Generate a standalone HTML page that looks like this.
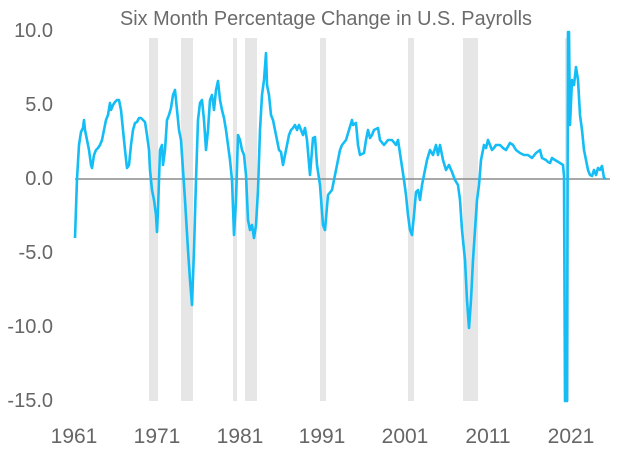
<!DOCTYPE html>
<html><head><meta charset="utf-8"><style>
html,body{margin:0;padding:0;background:#fff;}
svg{display:block;font-family:"Liberation Sans",sans-serif;}
</style></head><body>
<svg width="624" height="455" viewBox="0 0 624 455">
<g fill="#e6e6e6">
<rect x="149" y="38" width="9" height="363"/>
<rect x="181" y="38" width="12" height="363"/>
<rect x="233" y="38" width="4" height="363"/>
<rect x="245" y="38" width="12" height="363"/>
<rect x="320" y="38" width="6" height="363"/>
<rect x="408" y="38" width="6" height="363"/>
<rect x="463" y="38" width="15" height="363"/>
<rect x="565" y="38" width="4" height="363"/>
</g>
<line x1="75" y1="179" x2="610" y2="179" stroke="#8c8c8c" stroke-width="1.5"/>
<text x="326" y="25" font-size="20" fill="#6b6b6b" text-anchor="middle" textLength="412" lengthAdjust="spacingAndGlyphs">Six Month Percentage Change in U.S. Payrolls</text>
<g font-size="20" fill="#666" text-anchor="end">
<text x="53" y="37">10.0</text>
<text x="53" y="111">5.0</text>
<text x="53" y="185">0.0</text>
<text x="53" y="259">-5.0</text>
<text x="53" y="333">-10.0</text>
<text x="53" y="407">-15.0</text>
</g>
<g font-size="21" fill="#666" text-anchor="middle">
<text x="74" y="443">1961</text>
<text x="157" y="443">1971</text>
<text x="240" y="443">1981</text>
<text x="322" y="443">1991</text>
<text x="405" y="443">2001</text>
<text x="488" y="443">2011</text>
<text x="571" y="443">2021</text>
</g>
<polyline fill="none" stroke="#14bdf5" stroke-width="2.6" stroke-linejoin="round" points="
75,238 77,179 79,145 81,132 83,128 84,120 85,130 87,140 89,150 91,165 92,168 94,155 96,150 98,148 100,145 102,140 104,130 106,120 108,115 110,103 111,110 113,105 115,102 117,100 119,100 121,110 123,130 125,150 127,168 129,165 131,145 133,130 135,123 137,122 139,118 141,118 143,120 145,122 147,135 149,150 150,170 152,190 154,200 156,215 157,232 158,210 160,150 162,145 163,165 165,150 167,120 169,115 171,108 173,95 175,90 177,110 179,130 181,140 183,170 185,200 188,250 190,280 192,305 194,250 196,180 198,120 200,103 202,100 204,120 206,150 208,130 210,100 212,95 214,110 216,90 218,81 220,100 222,110 224,118 226,130 228,145 230,160 232,180 234,235 236,200 238,135 240,140 242,150 244,155 246,175 248,220 250,230 252,225 254,238 256,225 258,190 260,130 262,95 264,80 266,53 267,85 269,95 271,115 273,120 275,130 277,140 279,150 281,152 283,165 285,155 287,145 289,135 291,130 293,128 295,125 297,130 299,125 301,130 303,135 305,128 307,140 310,175 313,138 315,137 317,165 320,185 323,225 325,230 328,195 332,190 336,170 340,150 342,145 346,140 349,130 352,120 353,125 356,123 358,145 360,155 364,153 366,140 368,130 370,138 372,135 374,130 378,128 380,140 384,145 388,140 392,140 396,145 398,140 401,160 404,180 406,195 408,215 410,230 412,235 414,215 416,192 418,190 420,200 422,185 424,175 427,160 430,150 433,155 436,145 438,155 440,145 443,160 446,170 449,165 452,172 455,180 458,185 460,200 462,230 465,260 467,300 469,328 471,300 473,260 475,230 477,200 479,185 481,160 484,145 486,148 488,140 490,145 492,150 494,148 496,145 500,145 503,148 506,150 510,143 513,145 516,150 520,153 524,155 528,155 532,158 536,153 540,150 542,158 546,160 548,162 550,163 552,158 555,160 560,163 563,165 564,176 565,401 567,401 568,32 569,32 570,125 572,80 574,85 576,67 578,80 580,115 582,130 584,150 586,160 588,170 590,175 592,176 594,170 596,175 598,168 600,170 602,166 604,178 606,179"/>
</svg>
</body></html>
